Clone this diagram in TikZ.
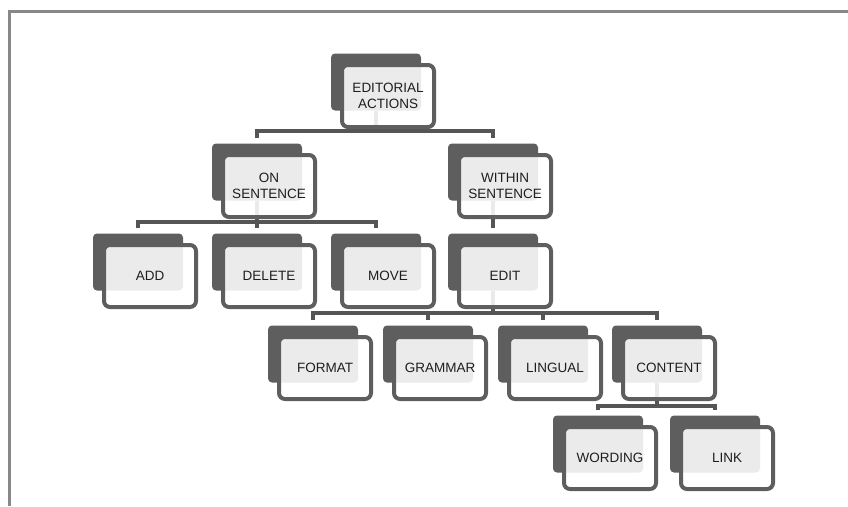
\documentclass[tikz,border=0pt]{standalone}
\usepackage{fontspec}
\setmainfont{Liberation Sans}
\usepackage{tikz}
\usetikzlibrary{positioning}
\definecolor{boxgray}{HTML}{5E5E5E}
\definecolor{linegray}{HTML}{555555}
\definecolor{framegray}{HTML}{888888}
\definecolor{textgray}{HTML}{1E1E1E}
\tikzset{
  back/.style={rectangle, rounded corners=4pt, fill=boxgray, minimum width=90pt, minimum height=57pt, inner sep=0pt},
  front/.style={rectangle, rounded corners=6pt, draw=boxgray, line width=4pt, fill=white, fill opacity=0.88, text opacity=1, text=textgray, minimum width=92pt, minimum height=62pt, inner sep=0pt, align=center, font=\fontsize{13.5}{16}\selectfont},
  link/.style={draw=linegray, line width=4.5pt}
}

\begin{document}
\begin{tikzpicture}[x=1pt, y=-1pt]
\useasboundingbox (0,0) rectangle (848,506);
\draw[framegray, line width=3pt] (9,506) -- (9,11.5) -- (848,11.5);

% back shapes
\node[back] (ed) at (376,82) {};
\node[back] (on) at (257,172) {};
\node[back] (wi) at (493,172) {};
\node[back] (add) at (138,262) {};
\node[back] (del) at (257,262) {};
\node[back] (mov) at (376,262) {};
\node[back] (edit) at (493,262) {};
\node[back] (fmt) at (313,354) {};
\node[back] (gram) at (428,354) {};
\node[back] (ling) at (543,354) {};
\node[back] (cont) at (657,354) {};
\node[back] (word) at (598,444) {};
\node[back] (link) at (715,444) {};

% bars
\coordinate (b0) at (376,131);
\coordinate (b1) at (257,222);
\coordinate (b2) at (493,313);
\coordinate (b3) at (657,406);

\draw[link] (ed.south) -- (b0);
\draw[link] ([yshift=5pt]on.north) |- (b0) -| ([yshift=5pt]wi.north);

\draw[link] ([yshift=5pt]add.north) |- (b1) -| ([yshift=5pt]mov.north);
\draw[link] (on.south) -- ([yshift=5pt]del.north);

\draw[link] (wi.south) -- ([yshift=5pt]edit.north);

\draw[link] (edit.south) -- (b2);
\draw[link] ([yshift=5pt]fmt.north) |- (b2) -| ([yshift=5pt]cont.north);
\foreach \n in {gram, ling}
  \draw[link] (\n.north |- b2) -- ([yshift=5pt]\n.north);

\draw[link] (cont.south) -- (b3);
\draw[link] ([yshift=5pt]word.north) |- (b3) -| ([yshift=5pt]link.north);

% front boxes
\node[front] (ed-f) at ([xshift=12pt,yshift=-14pt]ed.center) {EDITORIAL\\ACTIONS};
\node[front] (on-f) at ([xshift=12pt,yshift=-14pt]on.center) {ON\\SENTENCE};
\node[front] (wi-f) at ([xshift=12pt,yshift=-14pt]wi.center) {WITHIN\\SENTENCE};
\node[front] (add-f) at ([xshift=12pt,yshift=-14pt]add.center) {ADD};
\node[front] (del-f) at ([xshift=12pt,yshift=-14pt]del.center) {DELETE};
\node[front] (mov-f) at ([xshift=12pt,yshift=-14pt]mov.center) {MOVE};
\node[front] (edit-f) at ([xshift=12pt,yshift=-14pt]edit.center) {EDIT};
\node[front] (fmt-f) at ([xshift=12pt,yshift=-14pt]fmt.center) {FORMAT};
\node[front] (gram-f) at ([xshift=12pt,yshift=-14pt]gram.center) {GRAMMAR};
\node[front] (ling-f) at ([xshift=12pt,yshift=-14pt]ling.center) {LINGUAL};
\node[front] (cont-f) at ([xshift=12pt,yshift=-14pt]cont.center) {CONTENT};
\node[front] (word-f) at ([xshift=12pt,yshift=-14pt]word.center) {WORDING};
\node[front] (link-f) at ([xshift=12pt,yshift=-14pt]link.center) {LINK};
\end{tikzpicture}
\end{document}
